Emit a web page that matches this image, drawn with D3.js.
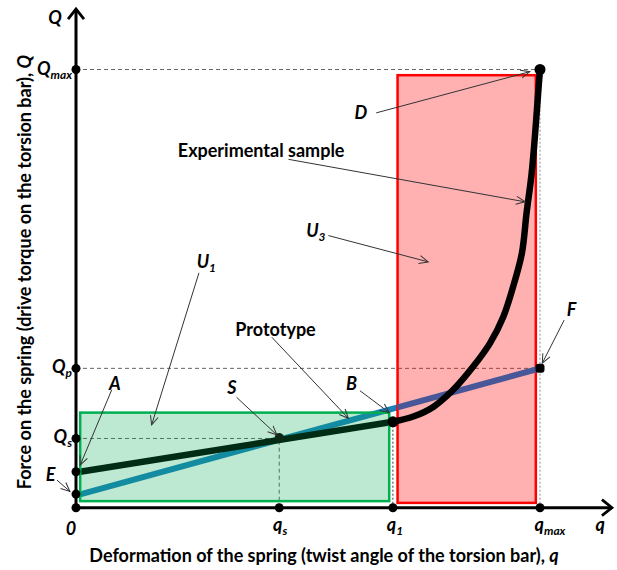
<!DOCTYPE html>
<html><head><meta charset="utf-8">
<script src="https://cdn.jsdelivr.net/npm/d3@7"></script>
<style>
html,body{margin:0;padding:0;background:#fff;}
text{font-family:Lato,"Open Sans",sans-serif;}
</style></head>
<body>
<svg id="c" width="617" height="570"></svg>
<script>
// ---------- data (q = deformation, Q = force), arbitrary units ----------
const qKeys   = ["0", "qs", "q1", "qmax"];
const qValues = [0, 4.38, 6.83, 10];
const QKeys   = ["E", "A", "Qs", "Qp", "Qmax"];
const QValues = [0.31, 0.82, 1.58, 3.18, 10];
// prototype (linear) characteristic: from E-level to F
const prototypeQ = [0.09, 10];
const prototypeF = [0.305, 3.18];
// experimental sample: linear part A -> B
const sampleLinQ = [0.09, 6.83];
const sampleLinF = [0.82, 1.96];
// experimental sample: stiffening part B -> D
const curveQ = [6.83, 7.27, 7.70, 8.13, 8.56, 8.92, 9.21, 9.42, 9.61, 9.71, 9.82, 9.89, 9.96, 10.0];
const curveF = [1.96, 2.08, 2.30, 2.69, 3.22, 3.75, 4.36, 5.04, 5.81, 6.72, 7.63, 8.47, 9.46, 10.0];
// zones U1 and U3: [qFrom, qTo, QFrom, QTo]
const zoneU1 = [0.09, 6.75, 0.15, 2.17];
const zoneU3 = [6.93, 9.91, 0.11, 9.87];
// annotations: label, text pos [q,Q], arrow from [q,Q], arrow to [q,Q]
const annLabels = ["D", "Experimental sample", "U3", "U1", "Prototype", "S", "B", "F", "A", "E"];
const annText = [[6.14,8.87],[3.99,8.00],[4.96,6.18],[2.60,5.47],[4.30,3.92],[3.36,2.59],[5.94,2.69],[10.68,4.37],[0.84,2.69],[-0.55,0.61]];
const annFrom = [[6.47,9.01],[4.58,7.95],[5.44,6.21],[2.65,5.36],[4.22,3.89],[3.46,2.52],[6.12,2.67],[10.52,4.28],[0.77,2.69],[-0.41,0.63]];
const annTo   = [[9.78,9.95],[9.68,6.98],[7.59,5.61],[1.63,1.89],[5.87,2.04],[4.33,1.66],[6.75,2.17],[10.05,3.30],[0.09,0.97],[-0.13,0.37]];

// ---------- scales ----------
const x = d3.scaleLinear().domain([0, 10]).range([76, 540]);
const y = d3.scaleLinear().domain([0, 10]).range([507.7, 69.5]);
const svg = d3.select("#c");

svg.append("defs").append("marker")
  .attr("id","arr").attr("markerUnits","userSpaceOnUse")
  .attr("markerWidth",12).attr("markerHeight",12)
  .attr("refX",10).attr("refY",5).attr("orient","auto")
  .append("path").attr("d","M1,1 L10,5 L1,9").attr("fill","none")
  .attr("stroke","#333").attr("stroke-width",1);

const qs = qValues[1], q1 = qValues[2], qmax = qValues[3];
const Qmax = QValues[4], Qp = QValues[3], Qs = QValues[2];

// ---------- dashed guides ----------
const g = svg.append("g").attr("stroke","#666").attr("stroke-width",1).attr("stroke-dasharray","4,3").attr("fill","none");
g.append("line").attr("x1",x(0)).attr("x2",x(qmax)).attr("y1",y(Qmax)).attr("y2",y(Qmax));
g.append("line").attr("x1",x(0)).attr("x2",x(qmax)).attr("y1",y(Qp)).attr("y2",y(Qp));
g.append("line").attr("x1",x(0)).attr("x2",x(qs)).attr("y1",y(Qs)).attr("y2",y(Qs));
g.append("line").attr("x1",x(qs)).attr("x2",x(qs)).attr("y1",y(0)).attr("y2",y(Qs));
g.append("line").attr("x1",x(q1)).attr("x2",x(q1)).attr("y1",y(0)).attr("y2",y(sampleLinF[1])).attr("stroke-dasharray","2,2").attr("stroke","#333");
g.append("line").attr("x1",x(qmax)).attr("x2",x(qmax)).attr("y1",y(0)).attr("y2",y(Qmax)).attr("stroke-dasharray","2,2").attr("stroke","#888");

// ---------- prototype line (part under/left of U3) ----------
const line = d3.line().x(d=>x(d[0])).y(d=>y(d[1]));
const protoAt = q => prototypeF[0] + (prototypeF[1]-prototypeF[0])*(q-prototypeQ[0])/(prototypeQ[1]-prototypeQ[0]);
svg.append("path").attr("d", line([[prototypeQ[0],prototypeF[0]],[zoneU3[0],protoAt(zoneU3[0])]]))
  .attr("stroke","#1a80bc").attr("stroke-width",6).attr("fill","none");
// sample linear part
svg.append("path").attr("d", line([[sampleLinQ[0],sampleLinF[0]],[sampleLinQ[1],sampleLinF[1]]]))
  .attr("stroke","#000").attr("stroke-width",6.5).attr("fill","none");

// ---------- zones ----------
svg.append("rect").attr("x",x(zoneU1[0])).attr("width",x(zoneU1[1])-x(zoneU1[0]))
  .attr("y",y(zoneU1[3])).attr("height",y(zoneU1[2])-y(zoneU1[3]))
  .attr("fill","rgba(0,170,80,0.26)").attr("stroke","#00b050").attr("stroke-width",2.5);
svg.append("rect").attr("x",x(zoneU3[0])).attr("width",x(zoneU3[1])-x(zoneU3[0]))
  .attr("y",y(zoneU3[3])).attr("height",y(zoneU3[2])-y(zoneU3[3]))
  .attr("fill","rgba(255,0,0,0.31)").attr("stroke","#ff0000").attr("stroke-width",2.5);

// prototype part over U3
svg.append("path").attr("d", line([[zoneU3[0],protoAt(zoneU3[0])],[prototypeQ[1],prototypeF[1]]]))
  .attr("stroke","#475797").attr("stroke-width",6).attr("fill","none");

// sample curve
svg.append("path").attr("d", d3.line().curve(d3.curveCatmullRom).x(d=>x(d[0])).y(d=>y(d[1]))(curveQ.map((q,i)=>[q,curveF[i]])))
  .attr("stroke","#000").attr("stroke-width",6.5).attr("fill","none").attr("stroke-linecap","round");

// ---------- axes ----------
const ax = svg.append("g").attr("stroke","#000").attr("stroke-width",3).attr("fill","none");
ax.append("line").attr("x1",x(0)).attr("x2",x(0)).attr("y1",y(0)).attr("y2",y(11.38));
ax.append("line").attr("x1",x(0)).attr("x2",x(11.55)).attr("y1",y(0)).attr("y2",y(0));
ax.append("path").attr("d",`M${x(0)-8},${y(11.38)+10} L${x(0)},${y(11.38)} L${x(0)+8},${y(11.38)+10}`).attr("stroke-width",2.8);
ax.append("path").attr("d",`M${x(11.55)-10},${y(0)-8} L${x(11.55)},${y(0)} L${x(11.55)-10},${y(0)+8}`).attr("stroke-width",2.8);

// ---------- dots ----------
const dots = svg.append("g").attr("fill","#000");
[0, ...QValues].forEach(v => dots.append("circle").attr("cx",x(0)).attr("cy",y(v)).attr("r",4.5));
qValues.slice(1).forEach(v => dots.append("circle").attr("cx",x(v)).attr("cy",y(0)).attr("r",4.5));
dots.append("circle").attr("cx",x(qs)).attr("cy",y(Qs)-1).attr("r",4.5).attr("fill","#0b2a16");
dots.append("circle").attr("cx",x(sampleLinQ[1])).attr("cy",y(sampleLinF[1])).attr("r",5.5);
dots.append("circle").attr("cx",x(qmax)).attr("cy",y(Qmax)).attr("r",5.5);
dots.append("rect").attr("x",x(prototypeQ[1])-4.5).attr("y",y(prototypeF[1])-4.5).attr("width",9).attr("height",9).attr("rx",3);

// ---------- labels ----------
const MS = 18;
function mathLabel(sel, main, sub, px, py, anchor, size) {
  const t = sel.append("text").attr("x",px).attr("y",py).attr("text-anchor",anchor||"start")
    .attr("font-weight","bold").attr("font-style","italic").attr("font-size",size||MS).attr("fill","#000");
  t.append("tspan").text(main);
  if (sub) t.append("tspan").attr("font-size",(size||MS)*0.66).attr("dy",4).text(sub);
  return t;
}
const L = svg.append("g");
mathLabel(L,"Q",null,x(0)-21,24,"middle");
mathLabel(L,"Q","max",x(0)-4,y(Qmax)+5,"end");
mathLabel(L,"Q","p",x(0)-4,y(Qp)+5,"end");
mathLabel(L,"Q","s",x(0)-4,y(Qs)+5,"end");
mathLabel(L,"0",null,x(0)-5,535,"middle");
mathLabel(L,"q","s",x(qs)+1,531,"middle");
mathLabel(L,"q","1",x(q1)+2,531,"middle");
mathLabel(L,"q","max",x(qmax)+10,531,"middle");
mathLabel(L,"q",null,x(11.3),531,"middle");

// annotations
annLabels.forEach((lab,i)=>{
  const [tq,tQ] = annText[i];
  if (lab === "Experimental sample" || lab === "Prototype") {
    L.append("text").attr("x",x(tq)).attr("y",y(tQ)).attr("text-anchor","middle")
      .attr("font-weight","bold").attr("font-size",18).attr("fill","#000").text(lab);
  } else if (lab === "U3" || lab === "U1") {
    mathLabel(L,"U",lab.slice(1),x(tq),y(tQ),"start");
  } else {
    mathLabel(L,lab,null,x(tq),y(tQ),"middle");
  }
  L.append("line").attr("x1",x(annFrom[i][0])).attr("y1",y(annFrom[i][1]))
    .attr("x2",x(annTo[i][0])).attr("y2",y(annTo[i][1]))
    .attr("stroke","#333").attr("stroke-width",1).attr("marker-end","url(#arr)");
});

// axis titles
const xt = L.append("text").attr("x",324).attr("y",562).attr("text-anchor","middle")
  .attr("font-weight","bold").attr("font-size",18).attr("fill","#000");
xt.append("tspan").text("Deformation of the spring (twist angle of the torsion bar), ");
xt.append("tspan").attr("font-style","italic").text("q");
const yt = L.append("text").attr("transform","translate(31,272) rotate(-90)").attr("text-anchor","middle")
  .attr("font-weight","bold").attr("font-size",18).attr("fill","#000");
yt.append("tspan").text("Force on the spring (drive torque on the torsion bar), ");
yt.append("tspan").attr("font-style","italic").text("Q");
</script>
</body></html>
